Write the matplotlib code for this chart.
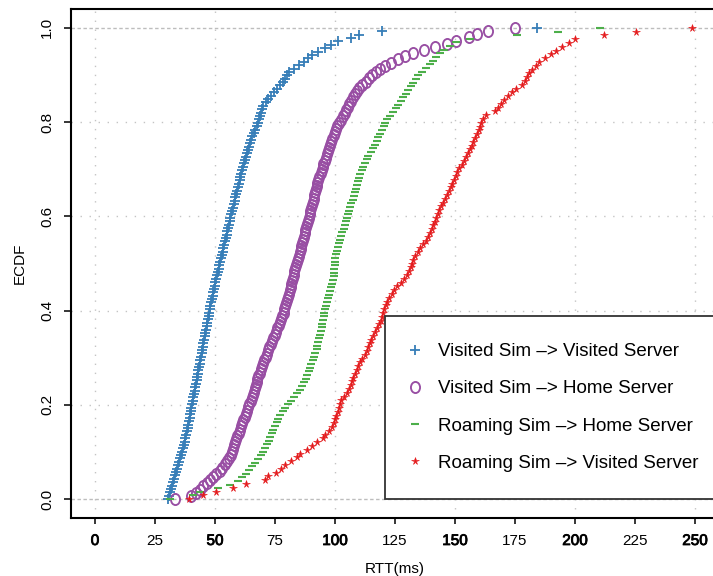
import matplotlib
matplotlib.use("Agg")
import matplotlib.pyplot as plt
import numpy as np
from matplotlib.path import Path
import matplotlib.patheffects as pe

plt.rcParams['font.family'] = ['Liberation Sans', 'DejaVu Sans']

# ---------------- data (sorted RTT samples, ms) ----------------
visited_visited = [
    30.5, 30.9, 31.3, 31.8, 32.2, 32.6, 33.0, 33.4, 33.9, 34.3, 34.7, 35.2, 35.6,
    35.9, 36.3, 36.6, 37.0, 37.3, 37.7, 38.0, 38.3,
    38.6, 38.9, 39.1, 39.4, 39.7, 39.9, 40.2, 40.5, 40.8, 41.0, 41.3, 41.6, 41.8,
    42.1, 42.4, 42.6, 42.9, 43.1, 43.4, 43.6, 43.9, 44.1, 44.4,
    44.7, 44.9, 45.2, 45.4, 45.7, 46.0, 46.2, 46.5, 46.8, 47.0, 47.3, 47.5, 47.8,
    48.1, 48.4, 48.6,
    49.0, 49.3, 49.6, 49.9, 50.2, 50.5,
    50.8, 51.1, 51.5, 51.8, 52.2,
    52.5, 52.8, 53.2, 53.5, 53.8, 54.2, 54.5, 54.8, 55.1, 55.5, 55.8, 56.1,
    56.4, 56.8, 57.1, 57.5, 57.8, 58.2, 58.5, 58.9, 59.2, 59.6, 59.9, 60.3, 60.6,
    61.0, 61.3, 61.7,
    62.1, 62.5, 62.9, 63.3, 63.7, 64.1, 64.5,
    65.0, 65.6, 66.2, 66.8, 67.3,
    67.8, 68.2, 68.7, 69.1, 69.6, 70.1,
    71.2, 72.2, 73.4, 74.6, 75.8, 77.0, 78.2, 79.3,
    80.2, 81.0, 82.8, 85.0, 87.0, 88.7, 90.4,
    93.0, 96.0, 98.5, 101.4, 106.5, 110.0, 119.4, 184.0,
]

visited_home = [
    33.3, 40.1, 42.1, 43.9, 45.2, 46.5, 47.9, 49.2, 50.5, 51.9, 53.1, 54.2, 55.2,
    56.0, 56.7, 57.2, 57.6, 58.1, 58.5, 58.9, 59.3, 59.8, 60.3, 60.8, 61.3, 61.8,
    62.3, 62.8, 63.3, 63.8, 64.3, 64.8, 65.3, 65.8, 66.2, 66.6, 67.0, 67.3, 67.7,
    68.1, 68.6, 69.1, 69.6, 70.1, 70.6, 71.1, 71.6, 72.1, 72.6, 73.2, 73.8, 74.3,
    74.9, 75.5, 76.0, 76.6, 77.1, 77.6, 78.1, 78.6, 78.9, 79.3, 79.7, 80.1, 80.5,
    80.8, 81.2, 81.5, 81.8, 82.1, 82.5, 82.8, 83.1, 83.5, 83.8, 84.1, 84.5, 84.9,
    85.3, 85.7, 86.0, 86.3, 86.6, 87.0, 87.3, 87.6, 88.0, 88.3, 88.7, 89.0, 89.4,
    89.7, 90.1, 90.4, 90.8, 91.1, 91.4, 91.7, 92.0, 92.4, 92.7, 93.1, 93.5, 94.0,
    94.4, 94.8, 95.2, 95.7, 96.2, 96.7, 97.1, 97.6, 98.0, 98.4, 98.9, 99.4, 99.8,
    100.3, 100.8, 101.5, 102.3, 103.3, 104.0, 104.7, 105.3, 106.0, 106.8, 107.5,
    108.3, 109.2, 110.1, 111.4, 112.8, 114.2, 115.4, 117.2, 118.8, 120.8, 123.3,
    126.3, 129.3, 132.6, 137.0, 141.7, 146.5, 150.4, 156.0, 159.3, 163.9, 175.0,
]

roaming_home = [
    31.2, 41.0, 43.8, 51.4, 56.3, 59.7, 61.3, 62.8, 64.0, 65.5, 66.8, 67.9, 69.0,
    70.1, 70.9, 71.8, 72.5, 73.1, 73.8, 74.3, 75.0, 75.7, 76.3, 77.1, 78.2, 79.3,
    80.5, 81.7, 83.0, 84.3, 85.4, 86.2, 87.0, 87.8, 88.5, 89.0, 89.6, 90.2, 90.9,
    91.3, 91.8, 92.3, 92.7, 93.1, 93.4, 93.8, 94.1, 94.4, 94.7, 95.0, 95.3, 95.6,
    95.8, 96.3, 96.8, 97.2, 97.7, 98.1, 98.5, 98.9, 99.3, 99.4, 99.5, 99.7, 99.8,
    99.9, 100.1, 100.5, 100.9, 101.3, 101.7, 102.1, 102.5, 103.0, 103.6, 104.1,
    104.6, 105.1, 105.5, 106.0, 106.4, 106.8, 107.3, 107.8, 108.3, 108.8, 109.3,
    109.7, 110.2, 110.6, 111.2, 111.7, 112.4, 113.2, 113.9, 114.8, 115.7, 116.5,
    117.3, 118.0, 118.8, 119.6, 120.3, 121.0, 121.8, 123.1, 124.2, 125.3, 126.3,
    127.4, 128.5, 129.4, 130.5, 131.5, 132.7, 133.7, 134.7, 136.2, 137.8, 139.4,
    140.7, 142.1, 143.8, 145.5, 148.0, 150.5, 156.4, 175.7, 192.8, 210.4,
]

roaming_visited = [
    39.0, 44.9, 50.3, 57.6, 62.9, 70.8, 72.2, 75.3, 77.6, 79.3, 81.7, 84.0, 85.4,
    88.2, 90.4, 92.5, 94.8, 96.0, 97.4, 98.6, 99.4, 100.0, 100.6, 101.1, 101.5,
    102.0, 102.7, 103.9, 105.0, 105.8, 106.5, 107.1, 107.7, 108.3, 109.0, 109.6,
    110.3, 111.3, 112.5, 113.2, 113.8, 114.4, 115.1, 115.8, 116.6, 117.5, 118.4,
    119.0, 119.6, 120.1, 120.6, 121.2, 121.8, 122.6, 123.7, 124.6, 125.7, 127.3,
    128.7, 129.9, 130.9, 131.7, 132.2, 132.6, 133.5, 134.6, 135.6, 136.7, 137.8,
    138.7, 139.6, 140.3, 141.0, 141.6, 142.2, 142.8, 143.4, 144.0, 144.8, 145.7,
    146.7, 147.4, 148.2, 148.9, 149.6, 150.3, 151.0, 151.8, 152.8, 153.8, 154.7,
    155.4, 156.2, 157.0, 157.7, 158.5, 159.3, 159.9, 160.3, 161.0, 161.8, 162.9,
    166.7, 167.9, 169.1, 170.4, 172.0, 173.7, 175.6, 178.0, 179.1, 180.0, 181.0,
    182.2, 183.7, 185.0, 187.7, 189.8, 192.0, 194.4, 197.5, 200.0, 212.2, 225.3,
    248.8,
]

series_labels = [
    "Visited Sim –> Visited Server",
    "Visited Sim –> Home Server",
    "Roaming Sim –> Home Server",
    "Roaming Sim –> Visited Server",
]
x_ticks = [0, 25, 50, 75, 100, 125, 150, 175, 200, 225, 250]
y_ticks = [0.0, 0.2, 0.4, 0.6, 0.8, 1.0]
y_tick_labels = ["0.0", "0.2", "0.4", "0.6", "0.8", "1.0"]

# ---------------- styles ----------------
ell = Path.unit_circle()
ell = Path(ell.vertices * np.array([0.82, 1.0]), ell.codes)

styles = [
    dict(marker='+', color='#377EB8', ms=7.0, mew=1.3),
    dict(marker=ell, color='#984EA3', ms=8.0, mew=1.35, mfc='none'),
    dict(marker='_', color='#4DAF4A', ms=6.3, mew=1.5),
    dict(marker='*', color='#E41A1C', ms=5.4, mew=0.4),
]

fig = plt.figure(figsize=(7.13, 5.76), dpi=100)
ax = fig.add_axes([71 / 713, 1 - 518 / 576, 648 / 713, 509 / 576])
ax.set_xlim(-10, 260)
ax.set_ylim(-0.04, 1.04)

# grid
for gx in range(0, 251, 50):
    ax.axvline(gx, color='#c4c4c4', lw=1.0, dashes=(1, 5.5), zorder=0)
for gy in [0.2, 0.4, 0.6, 0.8]:
    ax.axhline(gy, color='#c4c4c4', lw=1.0, dashes=(1, 5.5), zorder=0)
for gy in [0.0, 1.0]:
    ax.axhline(gy, color='#bdbdbd', lw=1.0, dashes=(2.5, 1.8), zorder=0)

all_series = [visited_visited, visited_home, roaming_home, roaming_visited]
for data, lab, st in zip(all_series, series_labels, styles):
    xs = np.sort(np.asarray(data, dtype=float))
    ys = np.arange(len(xs)) / (len(xs) - 1)
    ax.plot(xs, ys, linestyle='none', label=lab, **st)

for s in ax.spines.values():
    s.set_linewidth(1.5)
    s.set_color('black')

ax.set_xticks(x_ticks)
ax.set_xticklabels([str(t) for t in x_ticks])
ax.set_yticks(y_ticks)
ax.set_yticklabels(y_tick_labels, rotation=90, va='center')
ax.tick_params(axis='x', direction='out', length=4.5, width=1.1, labelsize=11, pad=7)
ax.tick_params(axis='y', direction='out', length=5, width=1.1, labelsize=11, pad=7)
for lbl in ax.get_xticklabels():
    if int(lbl.get_text()) % 50 == 0:
        lbl.set_path_effects([pe.withStroke(linewidth=0.6, foreground='black')])

ax.set_xlabel("RTT(ms)", fontsize=11, labelpad=10)
ax.set_ylabel("ECDF", fontsize=11, labelpad=10)

x0 = (385 - 71) / 648
y0 = (518 - 499) / 509
leg = ax.legend(loc='lower left', bbox_to_anchor=(x0, y0, (730 - 385) / 648, 0.4),
                mode='expand', borderaxespad=0, fontsize=13.5, borderpad=1.45,
                labelspacing=1.07, handlelength=0.3, handletextpad=1.05,
                frameon=True, fancybox=False, framealpha=1, edgecolor='#333333',
                numpoints=1)
leg.get_frame().set_linewidth(1.3)

fig.savefig("out.png", dpi=100)
